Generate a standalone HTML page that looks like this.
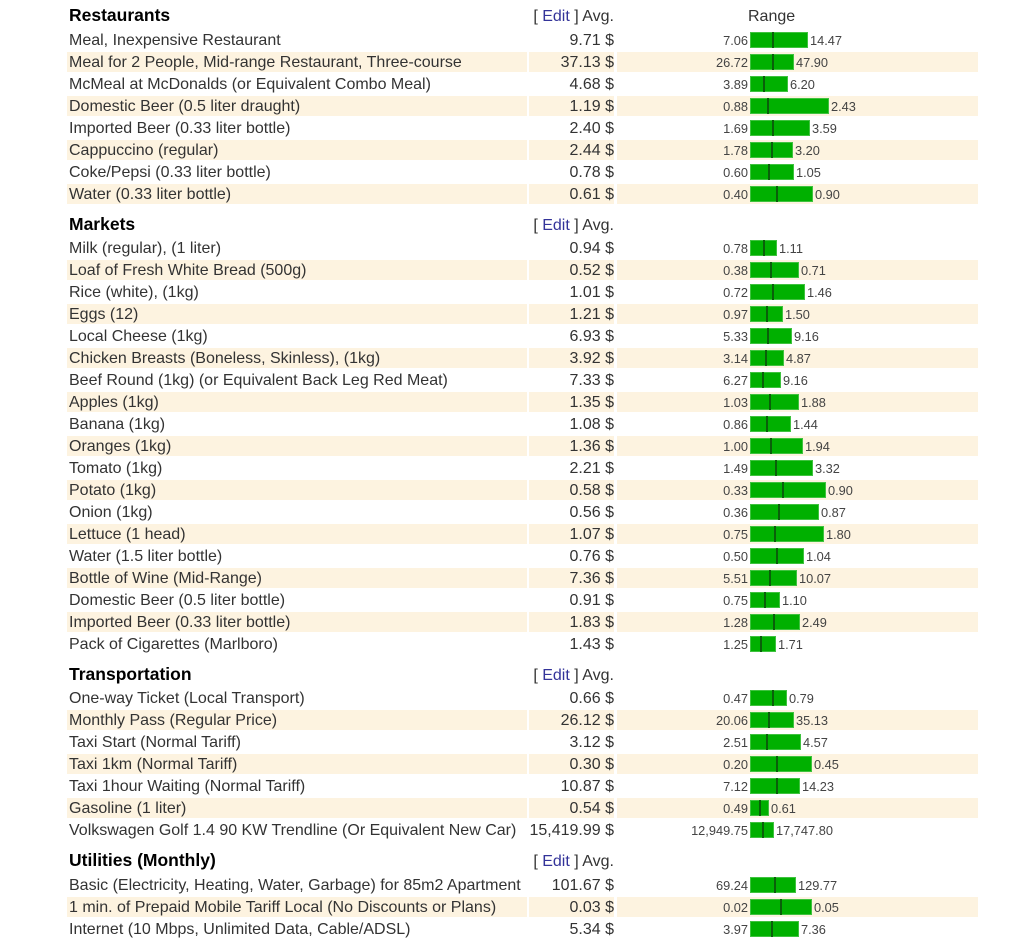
<!DOCTYPE html>
<html><head><meta charset="utf-8">
<style>
html,body{margin:0;padding:0;background:#fff;}
body{width:1024px;height:939px;position:relative;overflow:hidden;font-family:"Liberation Sans",Arial,sans-serif;color:#333;}
.r{position:absolute;left:0;width:1024px;height:20px;}
.n{position:absolute;left:67px;top:0;width:458px;height:20px;padding-left:2px;font-size:16px;line-height:22px;white-space:nowrap;}
.a{position:absolute;left:529px;top:0;width:85px;height:20px;text-align:right;font-size:16px;line-height:22px;white-space:nowrap;}
.g{position:absolute;left:617px;top:0;width:361px;height:20px;}
.s .n,.s .a,.s .g{background:#fdf3e0;}
.mn{position:absolute;left:0;top:1px;width:131px;text-align:right;font-size:12.8px;line-height:20px;color:#444;white-space:nowrap;}
.rg{position:absolute;left:133px;top:0;height:20px;display:flex;align-items:center;}
.b{position:relative;height:16px;background:#00b000;box-sizing:border-box;border:1px solid #3fc23f;}
.k{position:absolute;top:-1px;bottom:-1px;width:2px;margin-left:1px;background:#0a5f0a;}
.mx{margin-left:2px;margin-top:2px;font-size:12.8px;line-height:20px;color:#444;white-space:nowrap;}
.h{position:absolute;left:69px;height:20px;font-size:17.5px;font-weight:bold;line-height:20px;color:#000;white-space:nowrap;}
.e{position:absolute;left:480px;width:134px;height:20px;text-align:right;font-size:16px;line-height:24px;color:#333;white-space:nowrap;}
.e span{color:#333399;}
.rh{position:absolute;left:748px;height:20px;font-size:16px;line-height:24px;color:#333;}
</style></head><body>

<div class="h" style="top:5px">Restaurants</div>
<div class="e" style="top:5px">[ <span>Edit</span> ] Avg.</div>
<div class="rh" style="top:5px">Range</div>

<div class="r" style="top:30px"><div class="n">Meal, Inexpensive Restaurant</div><div class="a">9.71 $</div><div class="g"><div class="mn">7.06</div><div class="rg"><div class="b" style="width:58px"><div class="k" style="left:20px"></div></div><span class="mx">14.47</span></div></div></div>
<div class="r s" style="top:52px"><div class="n">Meal for 2 People, Mid-range Restaurant, Three-course</div><div class="a">37.13 $</div><div class="g"><div class="mn">26.72</div><div class="rg"><div class="b" style="width:44px"><div class="k" style="left:20px"></div></div><span class="mx">47.90</span></div></div></div>
<div class="r" style="top:74px"><div class="n">McMeal at McDonalds (or Equivalent Combo Meal)</div><div class="a">4.68 $</div><div class="g"><div class="mn">3.89</div><div class="rg"><div class="b" style="width:38px"><div class="k" style="left:11px"></div></div><span class="mx">6.20</span></div></div></div>
<div class="r s" style="top:96px"><div class="n">Domestic Beer (0.5 liter draught)</div><div class="a">1.19 $</div><div class="g"><div class="mn">0.88</div><div class="rg"><div class="b" style="width:79px"><div class="k" style="left:15px"></div></div><span class="mx">2.43</span></div></div></div>
<div class="r" style="top:118px"><div class="n">Imported Beer (0.33 liter bottle)</div><div class="a">2.40 $</div><div class="g"><div class="mn">1.69</div><div class="rg"><div class="b" style="width:60px"><div class="k" style="left:20px"></div></div><span class="mx">3.59</span></div></div></div>
<div class="r s" style="top:140px"><div class="n">Cappuccino (regular)</div><div class="a">2.44 $</div><div class="g"><div class="mn">1.78</div><div class="rg"><div class="b" style="width:43px"><div class="k" style="left:19px"></div></div><span class="mx">3.20</span></div></div></div>
<div class="r" style="top:162px"><div class="n">Coke/Pepsi (0.33 liter bottle)</div><div class="a">0.78 $</div><div class="g"><div class="mn">0.60</div><div class="rg"><div class="b" style="width:44px"><div class="k" style="left:16px"></div></div><span class="mx">1.05</span></div></div></div>
<div class="r s" style="top:184px"><div class="n">Water (0.33 liter bottle)</div><div class="a">0.61 $</div><div class="g"><div class="mn">0.40</div><div class="rg"><div class="b" style="width:63px"><div class="k" style="left:24px"></div></div><span class="mx">0.90</span></div></div></div>

<div class="h" style="top:214px">Markets</div>
<div class="e" style="top:214px">[ <span>Edit</span> ] Avg.</div>

<div class="r" style="top:238px"><div class="n">Milk (regular), (1 liter)</div><div class="a">0.94 $</div><div class="g"><div class="mn">0.78</div><div class="rg"><div class="b" style="width:27px"><div class="k" style="left:11px"></div></div><span class="mx">1.11</span></div></div></div>
<div class="r s" style="top:260px"><div class="n">Loaf of Fresh White Bread (500g)</div><div class="a">0.52 $</div><div class="g"><div class="mn">0.38</div><div class="rg"><div class="b" style="width:49px"><div class="k" style="left:18px"></div></div><span class="mx">0.71</span></div></div></div>
<div class="r" style="top:282px"><div class="n">Rice (white), (1kg)</div><div class="a">1.01 $</div><div class="g"><div class="mn">0.72</div><div class="rg"><div class="b" style="width:55px"><div class="k" style="left:20px"></div></div><span class="mx">1.46</span></div></div></div>
<div class="r s" style="top:304px"><div class="n">Eggs (12)</div><div class="a">1.21 $</div><div class="g"><div class="mn">0.97</div><div class="rg"><div class="b" style="width:33px"><div class="k" style="left:14px"></div></div><span class="mx">1.50</span></div></div></div>
<div class="r" style="top:326px"><div class="n">Local Cheese (1kg)</div><div class="a">6.93 $</div><div class="g"><div class="mn">5.33</div><div class="rg"><div class="b" style="width:42px"><div class="k" style="left:15px"></div></div><span class="mx">9.16</span></div></div></div>
<div class="r s" style="top:348px"><div class="n">Chicken Breasts (Boneless, Skinless), (1kg)</div><div class="a">3.92 $</div><div class="g"><div class="mn">3.14</div><div class="rg"><div class="b" style="width:34px"><div class="k" style="left:13px"></div></div><span class="mx">4.87</span></div></div></div>
<div class="r" style="top:370px"><div class="n">Beef Round (1kg) (or Equivalent Back Leg Red Meat)</div><div class="a">7.33 $</div><div class="g"><div class="mn">6.27</div><div class="rg"><div class="b" style="width:31px"><div class="k" style="left:10px"></div></div><span class="mx">9.16</span></div></div></div>
<div class="r s" style="top:392px"><div class="n">Apples (1kg)</div><div class="a">1.35 $</div><div class="g"><div class="mn">1.03</div><div class="rg"><div class="b" style="width:49px"><div class="k" style="left:17px"></div></div><span class="mx">1.88</span></div></div></div>
<div class="r" style="top:414px"><div class="n">Banana (1kg)</div><div class="a">1.08 $</div><div class="g"><div class="mn">0.86</div><div class="rg"><div class="b" style="width:41px"><div class="k" style="left:14px"></div></div><span class="mx">1.44</span></div></div></div>
<div class="r s" style="top:436px"><div class="n">Oranges (1kg)</div><div class="a">1.36 $</div><div class="g"><div class="mn">1.00</div><div class="rg"><div class="b" style="width:53px"><div class="k" style="left:18px"></div></div><span class="mx">1.94</span></div></div></div>
<div class="r" style="top:458px"><div class="n">Tomato (1kg)</div><div class="a">2.21 $</div><div class="g"><div class="mn">1.49</div><div class="rg"><div class="b" style="width:63px"><div class="k" style="left:23px"></div></div><span class="mx">3.32</span></div></div></div>
<div class="r s" style="top:480px"><div class="n">Potato (1kg)</div><div class="a">0.58 $</div><div class="g"><div class="mn">0.33</div><div class="rg"><div class="b" style="width:76px"><div class="k" style="left:30px"></div></div><span class="mx">0.90</span></div></div></div>
<div class="r" style="top:502px"><div class="n">Onion (1kg)</div><div class="a">0.56 $</div><div class="g"><div class="mn">0.36</div><div class="rg"><div class="b" style="width:69px"><div class="k" style="left:26px"></div></div><span class="mx">0.87</span></div></div></div>
<div class="r s" style="top:524px"><div class="n">Lettuce (1 head)</div><div class="a">1.07 $</div><div class="g"><div class="mn">0.75</div><div class="rg"><div class="b" style="width:74px"><div class="k" style="left:22px"></div></div><span class="mx">1.80</span></div></div></div>
<div class="r" style="top:546px"><div class="n">Water (1.5 liter bottle)</div><div class="a">0.76 $</div><div class="g"><div class="mn">0.50</div><div class="rg"><div class="b" style="width:54px"><div class="k" style="left:24px"></div></div><span class="mx">1.04</span></div></div></div>
<div class="r s" style="top:568px"><div class="n">Bottle of Wine (Mid-Range)</div><div class="a">7.36 $</div><div class="g"><div class="mn">5.51</div><div class="rg"><div class="b" style="width:47px"><div class="k" style="left:17px"></div></div><span class="mx">10.07</span></div></div></div>
<div class="r" style="top:590px"><div class="n">Domestic Beer (0.5 liter bottle)</div><div class="a">0.91 $</div><div class="g"><div class="mn">0.75</div><div class="rg"><div class="b" style="width:30px"><div class="k" style="left:12px"></div></div><span class="mx">1.10</span></div></div></div>
<div class="r s" style="top:612px"><div class="n">Imported Beer (0.33 liter bottle)</div><div class="a">1.83 $</div><div class="g"><div class="mn">1.28</div><div class="rg"><div class="b" style="width:50px"><div class="k" style="left:21px"></div></div><span class="mx">2.49</span></div></div></div>
<div class="r" style="top:634px"><div class="n">Pack of Cigarettes (Marlboro)</div><div class="a">1.43 $</div><div class="g"><div class="mn">1.25</div><div class="rg"><div class="b" style="width:26px"><div class="k" style="left:8px"></div></div><span class="mx">1.71</span></div></div></div>

<div class="h" style="top:664px">Transportation</div>
<div class="e" style="top:664px">[ <span>Edit</span> ] Avg.</div>

<div class="r" style="top:688px"><div class="n">One-way Ticket (Local Transport)</div><div class="a">0.66 $</div><div class="g"><div class="mn">0.47</div><div class="rg"><div class="b" style="width:37px"><div class="k" style="left:20px"></div></div><span class="mx">0.79</span></div></div></div>
<div class="r s" style="top:710px"><div class="n">Monthly Pass (Regular Price)</div><div class="a">26.12 $</div><div class="g"><div class="mn">20.06</div><div class="rg"><div class="b" style="width:44px"><div class="k" style="left:16px"></div></div><span class="mx">35.13</span></div></div></div>
<div class="r" style="top:732px"><div class="n">Taxi Start (Normal Tariff)</div><div class="a">3.12 $</div><div class="g"><div class="mn">2.51</div><div class="rg"><div class="b" style="width:51px"><div class="k" style="left:14px"></div></div><span class="mx">4.57</span></div></div></div>
<div class="r s" style="top:754px"><div class="n">Taxi 1km (Normal Tariff)</div><div class="a">0.30 $</div><div class="g"><div class="mn">0.20</div><div class="rg"><div class="b" style="width:62px"><div class="k" style="left:24px"></div></div><span class="mx">0.45</span></div></div></div>
<div class="r" style="top:776px"><div class="n">Taxi 1hour Waiting (Normal Tariff)</div><div class="a">10.87 $</div><div class="g"><div class="mn">7.12</div><div class="rg"><div class="b" style="width:50px"><div class="k" style="left:24px"></div></div><span class="mx">14.23</span></div></div></div>
<div class="r s" style="top:798px"><div class="n">Gasoline (1 liter)</div><div class="a">0.54 $</div><div class="g"><div class="mn">0.49</div><div class="rg"><div class="b" style="width:19px"><div class="k" style="left:7px"></div></div><span class="mx">0.61</span></div></div></div>
<div class="r" style="top:820px"><div class="n">Volkswagen Golf 1.4 90 KW Trendline (Or Equivalent New Car)</div><div class="a">15,419.99 $</div><div class="g"><div class="mn">12,949.75</div><div class="rg"><div class="b" style="width:24px"><div class="k" style="left:10px"></div></div><span class="mx">17,747.80</span></div></div></div>

<div class="h" style="top:850px">Utilities (Monthly)</div>
<div class="e" style="top:850px">[ <span>Edit</span> ] Avg.</div>

<div class="r" style="top:875px"><div class="n">Basic (Electricity, Heating, Water, Garbage) for 85m2 Apartment</div><div class="a">101.67 $</div><div class="g"><div class="mn">69.24</div><div class="rg"><div class="b" style="width:46px"><div class="k" style="left:22px"></div></div><span class="mx">129.77</span></div></div></div>
<div class="r s" style="top:897px"><div class="n">1 min. of Prepaid Mobile Tariff Local (No Discounts or Plans)</div><div class="a">0.03 $</div><div class="g"><div class="mn">0.02</div><div class="rg"><div class="b" style="width:62px"><div class="k" style="left:28px"></div></div><span class="mx">0.05</span></div></div></div>
<div class="r" style="top:919px"><div class="n">Internet (10 Mbps, Unlimited Data, Cable/ADSL)</div><div class="a">5.34 $</div><div class="g"><div class="mn">3.97</div><div class="rg"><div class="b" style="width:49px"><div class="k" style="left:19px"></div></div><span class="mx">7.36</span></div></div></div>

</body></html>
